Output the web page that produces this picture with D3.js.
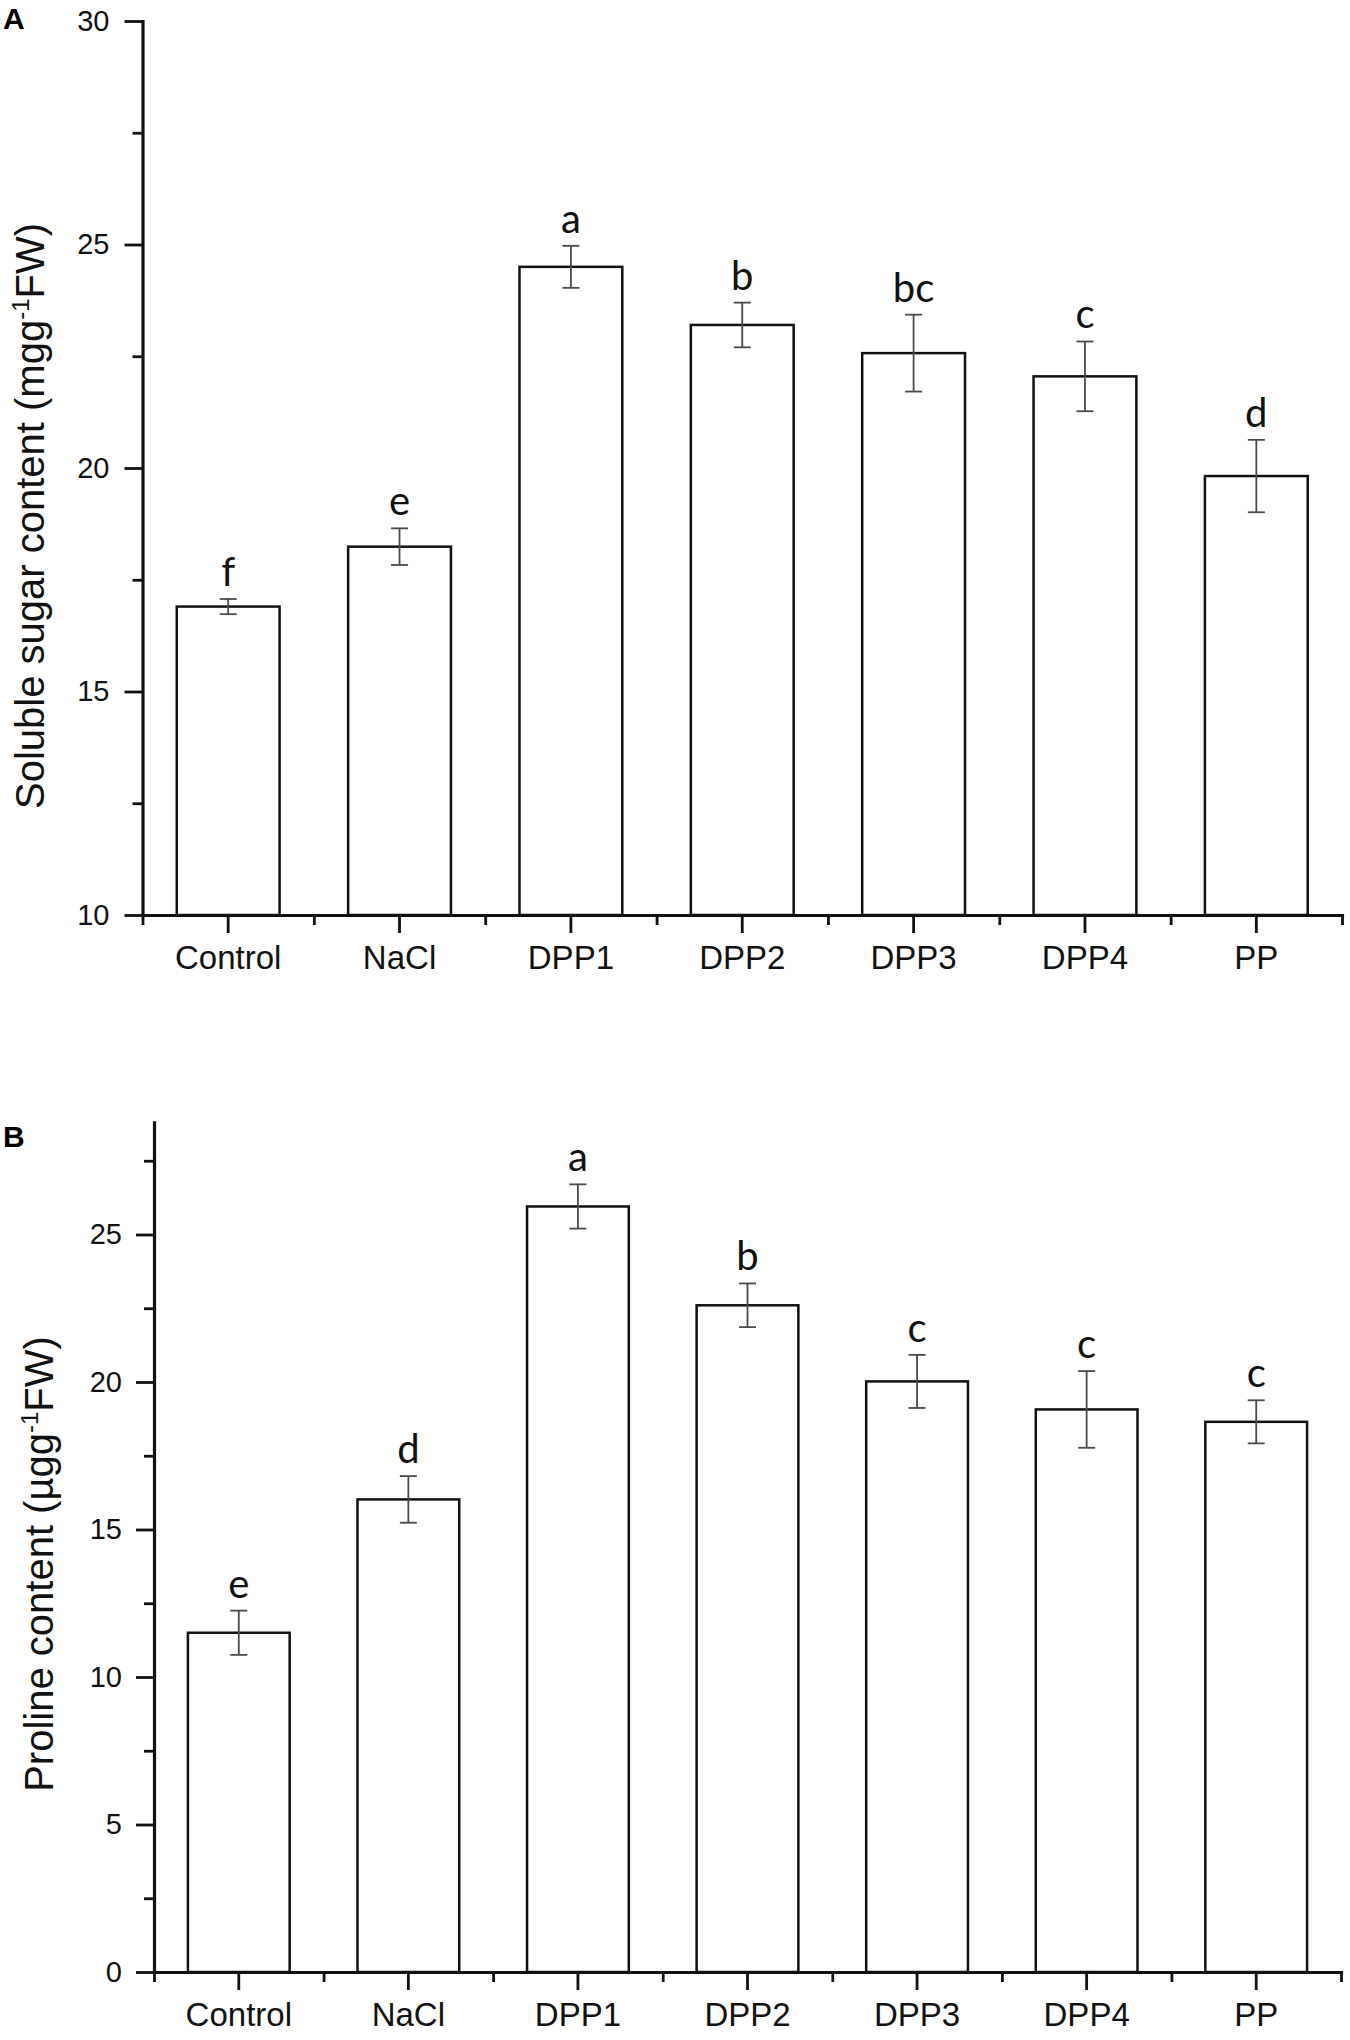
<!DOCTYPE html>
<html>
<head>
<meta charset="utf-8">
<script src="https://cdn.jsdelivr.net/npm/d3@7"></script>
<style>
  body { margin: 0; background: #fff; }
  svg { display: block; }
</style>
</head>
<body>
<div id="chart"></div>
<script>
// treatments on the x axis (shared by both panels)
const categories = ["Control", "NaCl", "DPP1", "DPP2", "DPP3", "DPP4", "PP"];

// panel A: soluble sugar (mg g-1 FW)
const sugarMean = [16.9, 18.24, 24.5, 23.2, 22.57, 22.05, 19.82];
const sugarErr = [0.17, 0.41, 0.47, 0.5, 0.86, 0.78, 0.81];
const sugarLetters = ["f", "e", "a", "b", "bc", "c", "d"];
const sugarTicks = [10, 15, 20, 25, 30];
const sugarMinor = [12.5, 17.5, 22.5, 27.5];

// panel B: proline (µg g-1 FW)
const prolineMean = [11.5, 16.02, 25.95, 22.6, 20.02, 19.07, 18.65];
const prolineErr = [0.75, 0.79, 0.75, 0.74, 0.9, 1.3, 0.73];
const prolineLetters = ["e", "d", "a", "b", "c", "c", "c"];
const prolineTicks = [0, 5, 10, 15, 20, 25];
const prolineMinor = [2.5, 7.5, 12.5, 17.5, 22.5, 27.5];

const breedte = 1350, hoogte = 2040;
const axisFont = "'Liberation Sans', Arial, sans-serif";
const letterFont = "Lato, 'Open Sans', sans-serif";

const svg = d3.select("#chart").append("svg")
  .attr("width", breedte)
  .attr("height", hoogte);

svg.append("rect").attr("width", breedte).attr("height", hoogte).attr("fill", "#fff");

function panel(p) {
  const g = svg.append("g");

  const x = d3.scaleBand()
    .domain(categories)
    .range([p.left, p.right])
    .paddingInner(0.4)
    .paddingOuter(0.2);

  const xEdges = d3.scaleLinear().domain([0, categories.length]).range([p.left, p.right]);

  const y = d3.scaleLinear().domain(p.domain).range([p.bottom, p.top]);

  const rows = categories.map((c, i) => ({ c, m: p.mean[i], e: p.err[i], l: p.letters[i] }));

  // bars
  g.selectAll("rect.bar")
    .data(rows)
    .join("rect")
    .attr("class", "bar")
    .attr("x", d => x(d.c))
    .attr("width", x.bandwidth())
    .attr("y", d => y(d.m))
    .attr("height", d => y(p.domain[0]) - y(d.m))
    .attr("fill", "#fff")
    .attr("stroke", "#111")
    .attr("stroke-width", 2.5);

  // error bars
  const eb = g.selectAll("g.err").data(rows).join("g").attr("class", "err")
    .attr("stroke", "#4a4a4a").attr("stroke-width", 1.8);
  const cx = d => x(d.c) + x.bandwidth() / 2;
  eb.append("line")
    .attr("x1", cx).attr("x2", cx)
    .attr("y1", d => y(d.m + d.e)).attr("y2", d => y(d.m - d.e));
  eb.append("line")
    .attr("x1", d => cx(d) - 8.5).attr("x2", d => cx(d) + 8.5)
    .attr("y1", d => y(d.m + d.e)).attr("y2", d => y(d.m + d.e));
  eb.append("line")
    .attr("x1", d => cx(d) - 8.5).attr("x2", d => cx(d) + 8.5)
    .attr("y1", d => y(d.m - d.e)).attr("y2", d => y(d.m - d.e));

  // significance letters
  g.selectAll("text.sig")
    .data(rows)
    .join("text")
    .attr("class", "sig")
    .attr("x", cx)
    .attr("y", d => y(d.m + d.e) - 13)
    .attr("text-anchor", "middle")
    .attr("font-family", letterFont)
    .attr("font-size", 40)
    .attr("fill", "#111")
    .text(d => d.l);

  // y axis (major + minor)
  const yAxis = g.append("g")
    .attr("transform", `translate(${p.left},0)`)
    .call(d3.axisLeft(y).tickValues(p.ticks).tickSize(18).tickSizeOuter(0).tickPadding(p.yPad));
  g.append("g")
    .attr("transform", `translate(${p.left},0)`)
    .call(d3.axisLeft(y).tickValues(p.minor).tickSize(10).tickFormat(""))
    .select(".domain").remove();

  // x axis (category ticks + boundary ticks)
  const xAxis = g.append("g")
    .attr("transform", `translate(0,${p.bottom})`)
    .call(d3.axisBottom(x).tickSize(18).tickSizeOuter(0).tickPadding(13));
  g.append("g")
    .attr("transform", `translate(0,${p.bottom})`)
    .call(d3.axisBottom(xEdges).tickValues(d3.range(categories.length + 1)).tickSize(10).tickFormat(""))
    .select(".domain").remove();

  g.selectAll(".domain").attr("stroke", "#111").attr("stroke-width", 3.2).attr("stroke-linecap", "square");
  g.selectAll(".tick line").attr("stroke", "#111").attr("stroke-width", 2.8);
  yAxis.selectAll(".tick text").attr("font-family", axisFont).attr("font-size", 29).attr("fill", "#111");
  xAxis.selectAll(".tick text").attr("font-family", axisFont).attr("font-size", 33).attr("fill", "#111");

  // y title with superscript
  const t = g.append("text")
    .attr("transform", `translate(${p.titleX},${p.titleY}) rotate(-90)`)
    .attr("text-anchor", "middle")
    .attr("font-family", axisFont)
    .attr("font-size", 40)
    .attr("fill", "#111");
  t.append("tspan").text(p.titlePre);
  t.append("tspan").attr("dy", -15).attr("font-size", 24).text("-1");
  t.append("tspan").attr("dy", 15).text("FW)");

  // panel letter
  g.append("text")
    .attr("x", 3)
    .attr("y", p.tagY)
    .attr("font-family", axisFont)
    .attr("font-weight", "bold")
    .attr("font-size", 30)
    .attr("fill", "#000")
    .text(p.tag);
}

panel({
  tag: "A", tagY: 29,
  mean: sugarMean, err: sugarErr, letters: sugarLetters,
  ticks: sugarTicks, minor: sugarMinor,
  domain: [10, 30],
  left: 142.5, right: 1342, top: 21, bottom: 915,
  yPad: 15,
  titlePre: "Soluble sugar content (mgg", titleX: 44, titleY: 516
});

panel({
  tag: "B", tagY: 1147,
  mean: prolineMean, err: prolineErr, letters: prolineLetters,
  ticks: prolineTicks, minor: prolineMinor,
  domain: [0, 28.8],
  left: 154, right: 1341, top: 1972 - 28.8 * 29.5, bottom: 1972,
  yPad: 14,
  titlePre: "Proline content (\u00b5gg", titleX: 53, titleY: 1564
});
</script>
</body>
</html>
